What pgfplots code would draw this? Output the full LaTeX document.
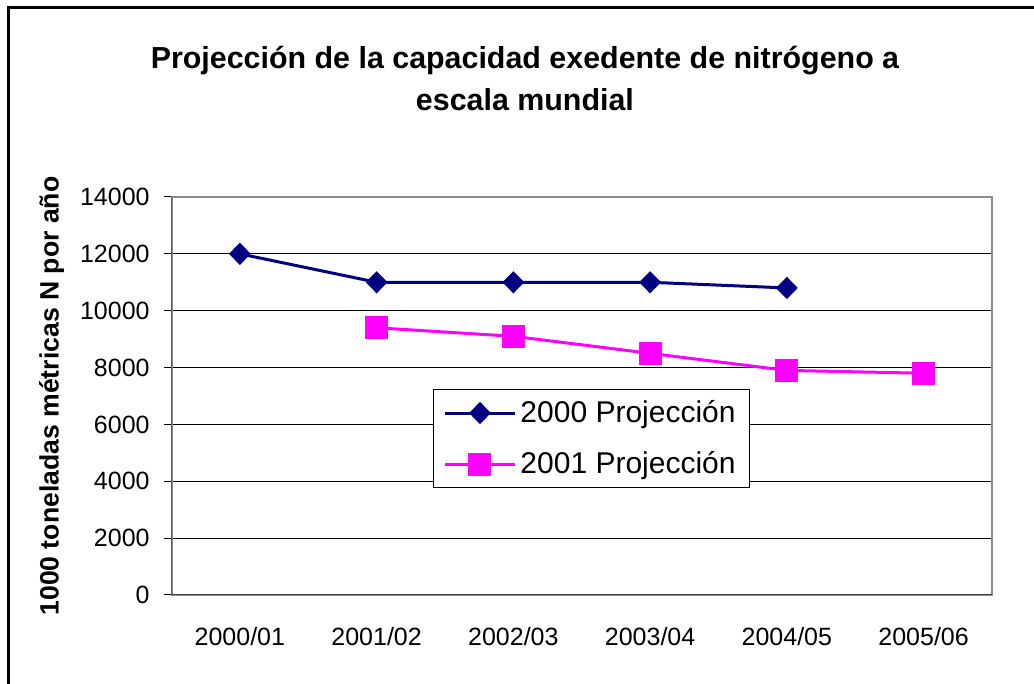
\documentclass[border=0pt]{standalone}
\usepackage{fontspec}
\setmainfont{Liberation Sans}
\usepackage{pgfplots}
\pgfplotsset{compat=1.18}
\definecolor{navyc}{RGB}{0,0,128}
\definecolor{magc}{RGB}{255,0,255}
\begin{document}
\begin{tikzpicture}
\useasboundingbox (0,0) rectangle (517pt,342pt);
\fill[white] (0,0) rectangle (517pt,342pt);
\draw[line width=1.5pt, black] (4pt,-20pt) -- (4pt,338pt) -- (540pt,338pt);
\begin{axis}[
  at={(85.75pt,44.5pt)}, anchor=south west,
  scale only axis, width=410.25pt, height=199pt,
  xmin=-0.5, xmax=5.5, ymin=0, ymax=14000,
  xtick={0,1,2,3,4,5},
  xticklabels={2000/01,2001/02,2002/03,2003/04,2004/05,2005/06},
  ytick={0,2000,4000,6000,8000,10000,12000,14000},
  ytick pos=left,
  scaled y ticks=false,
  /pgf/number format/assume math mode=true,
  yticklabel={\pgfmathprintnumber[fixed,1000 sep={}]{\tick}},
  tick align=outside,
  x tick style={draw=none},
  major tick length=3.5pt,
  y tick style={black, line width=0.5pt},
  ymajorgrids, grid style={black, line width=0.5pt},
  axis line style={draw=gray!90, line width=1pt},
  tick label style={font=\fontsize{12.5pt}{15pt}\selectfont},
  y tick label style={anchor=east, inner sep=0pt, xshift=-7.25pt},
  x tick label style={anchor=base, inner sep=0pt, yshift=-22pt},
  title={Projección de la capacidad exedente de nitrógeno a\\escala mundial},
  title style={at={(0.4308,1.2665)}, anchor=center, align=center,
    font=\fontsize{15.2pt}{21pt}\selectfont\bfseries},
  ylabel={1000 toneladas métricas N por año},
  ylabel style={at={(-0.146,0.5)}, anchor=center, rotate=0,
    font=\fontsize{13.3pt}{15pt}\selectfont\bfseries},
  legend style={at={(0.3187,0.5176)}, anchor=north west, draw=black, line width=0.5pt,
    font=\fontsize{15pt}{18pt}\selectfont, inner xsep=5pt, inner ysep=3.5pt,
    row sep=9pt,
    /tikz/every even column/.append style={column sep=8pt}},
  legend cell align=left,
  legend image code/.code={\draw[mark repeat=2,mark phase=2,#1] plot coordinates {(0pt,0pt) (17.5pt,0pt) (35pt,0pt)};},
]
\addplot[navyc, line width=1.5pt, mark=diamond*, mark size=4.5pt, mark options={xscale=1.3, solid}]
  coordinates {(0,12000) (1,11000) (2,11000) (3,11000) (4,10800)};
\addlegendentry{2000 Projección}
\addplot[magc, line width=1.5pt, mark=square*, mark size=5pt, mark options={solid}]
  coordinates {(1,9400) (2,9100) (3,8500) (4,7900) (5,7800)};
\addlegendentry{2001 Projección}
\draw[black, line width=0.5pt] (rel axis cs:0,0) -- (rel axis cs:0,1);
\draw[black!75, line width=1pt] (rel axis cs:0,0) -- (rel axis cs:1,0);
\end{axis}
\end{tikzpicture}
\end{document}
